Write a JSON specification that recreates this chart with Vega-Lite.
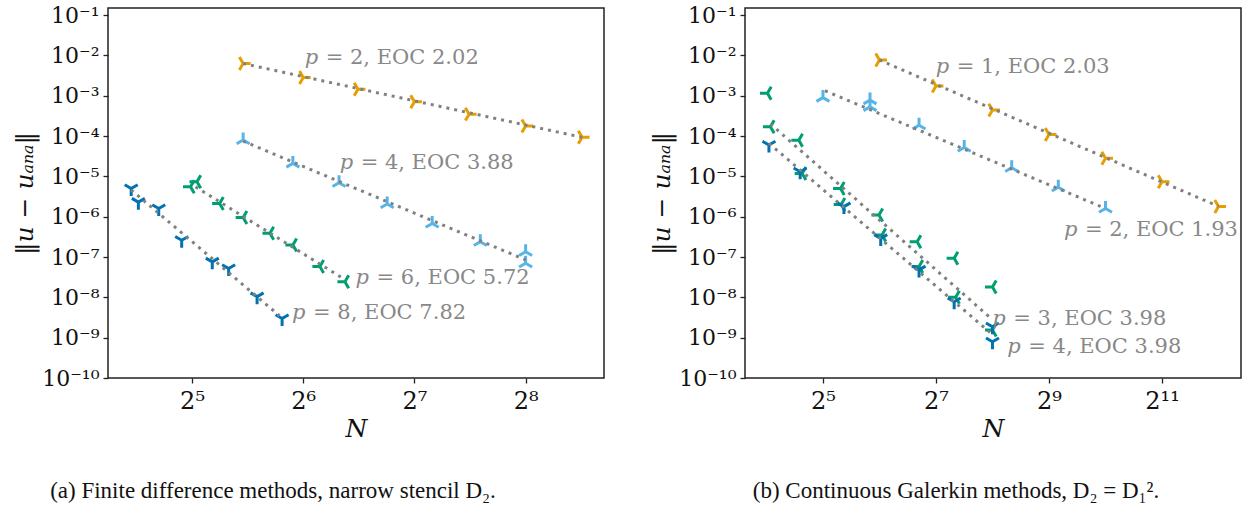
{
  "$schema": "https://vega.github.io/schema/vega-lite/v6.json",
  "background": "white",
  "padding": {"left": 12, "top": 3, "right": 5, "bottom": 5},
  "bounds": "flush",
  "spacing": 141,
  "config": {
    "view": {"stroke": "#222222", "strokeWidth": 1.5},
    "font": "DejaVu Serif",
    "axis": {
      "grid": false,
      "domain": false,
      "tickColor": "#222222",
      "tickSize": 5,
      "tickWidth": 1.3,
      "labelFont": "DejaVu Serif",
      "labelFontSize": 22,
      "labelColor": "#111111",
      "titleFont": "DejaVu Serif",
      "titleFontSize": 25,
      "titleFontWeight": "normal",
      "titleColor": "#111111"
    }
  },
  "datasets": {
    "ptsA": [
      {"p": 2, "N": 44, "err": 6.3e-3}, {"p": 2, "N": 64, "err": 2.85e-3}, {"p": 2, "N": 90, "err": 1.44e-3},
      {"p": 2, "N": 128, "err": 7.1e-4}, {"p": 2, "N": 180, "err": 3.5e-4}, {"p": 2, "N": 256, "err": 1.77e-4},
      {"p": 2, "N": 364, "err": 9.3e-5},
      {"p": 4, "N": 44, "err": 8.0e-5}, {"p": 4, "N": 60, "err": 2.1e-5}, {"p": 4, "N": 80, "err": 6.95e-6},
      {"p": 4, "N": 108, "err": 2.06e-6}, {"p": 4, "N": 143, "err": 6.8e-7}, {"p": 4, "N": 193, "err": 2.4e-7},
      {"p": 4, "N": 256, "err": 1.35e-7}, {"p": 4, "N": 256, "err": 7.0e-8},
      {"p": 6, "N": 31.7, "err": 5.5e-6}, {"p": 6, "N": 33, "err": 7.4e-6}, {"p": 6, "N": 38, "err": 2.14e-6},
      {"p": 6, "N": 44, "err": 9.6e-7}, {"p": 6, "N": 52, "err": 3.9e-7}, {"p": 6, "N": 60, "err": 2.0e-7},
      {"p": 6, "N": 71, "err": 5.8e-8}, {"p": 6, "N": 83, "err": 2.45e-8},
      {"p": 8, "N": 21.9, "err": 5.0e-6}, {"p": 8, "N": 22.9, "err": 2.3e-6}, {"p": 8, "N": 26, "err": 1.6e-6},
      {"p": 8, "N": 30, "err": 2.6e-7}, {"p": 8, "N": 36.3, "err": 7.6e-8}, {"p": 8, "N": 40.2, "err": 5.2e-8},
      {"p": 8, "N": 48, "err": 1.04e-8}, {"p": 8, "N": 56.1, "err": 3.0e-9}
    ],
    "fitA": [
      {"p": 2, "N": 44, "err": 6.3e-3}, {"p": 2, "N": 364, "err": 9.3e-5},
      {"p": 4, "N": 44, "err": 7.5e-5}, {"p": 4, "N": 256, "err": 8.5e-8},
      {"p": 6, "N": 32.7, "err": 5.5e-6}, {"p": 6, "N": 83.3, "err": 2.7e-8},
      {"p": 8, "N": 21.9, "err": 4.6e-6}, {"p": 8, "N": 55.2, "err": 3.5e-9}
    ],
    "labA": [
      {"p": 2, "N": 64.6, "err": 8.6e-3, "text": "= 2, EOC 2.02"},
      {"p": 4, "N": 80.3, "err": 2.14e-5, "text": "= 4, EOC 3.88"},
      {"p": 6, "N": 88.7, "err": 2.97e-8, "text": "= 6, EOC 5.72"},
      {"p": 8, "N": 59.7, "err": 4.0e-9, "text": "= 8, EOC 7.82"}
    ],
    "ptsB": [
      {"p": 1, "N": 64, "err": 7.7e-3}, {"p": 1, "N": 128, "err": 1.74e-3}, {"p": 1, "N": 256, "err": 4.4e-4},
      {"p": 1, "N": 512, "err": 1.1e-4}, {"p": 1, "N": 1024, "err": 2.8e-5}, {"p": 1, "N": 2048, "err": 7.4e-6},
      {"p": 1, "N": 4096, "err": 1.8e-6},
      {"p": 2, "N": 32, "err": 9.0e-4}, {"p": 2, "N": 57, "err": 7.8e-4}, {"p": 2, "N": 57, "err": 5.3e-4},
      {"p": 2, "N": 104, "err": 1.86e-4}, {"p": 2, "N": 181, "err": 5.2e-5}, {"p": 2, "N": 324, "err": 1.64e-5},
      {"p": 2, "N": 574, "err": 5.4e-6}, {"p": 2, "N": 1024, "err": 1.6e-6},
      {"p": 3, "N": 16.8, "err": 1.7e-4}, {"p": 3, "N": 24.8, "err": 1.18e-5}, {"p": 3, "N": 40, "err": 2.0e-6},
      {"p": 3, "N": 66, "err": 3.5e-7}, {"p": 3, "N": 104, "err": 5.8e-8}, {"p": 3, "N": 163, "err": 1.0e-8},
      {"p": 3, "N": 256, "err": 1.55e-9},
      {"p": 3, "N": 16.2, "err": 1.15e-3}, {"p": 3, "N": 23.8, "err": 7.9e-5}, {"p": 3, "N": 39.7, "err": 5.0e-6},
      {"p": 3, "N": 63.6, "err": 1.1e-6}, {"p": 3, "N": 101.6, "err": 2.4e-7}, {"p": 3, "N": 160, "err": 9.3e-8},
      {"p": 3, "N": 256, "err": 1.8e-8},
      {"p": 4, "N": 16.5, "err": 6.0e-5}, {"p": 4, "N": 24.2, "err": 1.3e-5}, {"p": 4, "N": 41.4, "err": 1.78e-6},
      {"p": 4, "N": 65, "err": 2.9e-7}, {"p": 4, "N": 104, "err": 4.8e-8}, {"p": 4, "N": 160, "err": 7.8e-9},
      {"p": 4, "N": 256, "err": 1.86e-9}, {"p": 4, "N": 256, "err": 7.9e-10}
    ],
    "fitB": [
      {"p": 1, "N": 64, "err": 7.7e-3}, {"p": 1, "N": 4096, "err": 1.8e-6},
      {"p": 2, "N": 32.8, "err": 1.33e-3}, {"p": 2, "N": 1024, "err": 1.6e-6},
      {"p": 3, "N": 16.8, "err": 2.0e-4}, {"p": 3, "N": 256, "err": 2.8e-9},
      {"p": 4, "N": 16.5, "err": 6.6e-5}, {"p": 4, "N": 256, "err": 1.2e-9}
    ],
    "labB": [
      {"p": 1, "N": 127.5, "err": 5.2e-3, "text": "= 1, EOC 2.03"},
      {"p": 2, "N": 615, "err": 4.7e-7, "text": "= 2, EOC 1.93"},
      {"p": 3, "N": 255.5, "err": 2.85e-9, "text": "= 3, EOC 3.98"},
      {"p": 4, "N": 307, "err": 5.75e-10, "text": "= 4, EOC 3.98"}
    ]
  },
  "hconcat": [
    {
      "width": 496,
      "height": 370,
      "title": {"text": "(a) Finite difference methods, narrow stencil D₂.", "orient": "bottom", "anchor": "middle", "dx": -83, "offset": 39, "font": "Liberation Serif", "fontSize": 23, "fontWeight": "normal", "color": "#111111"},
      "encoding": {
        "x": {"field": "N", "type": "quantitative", "scale": {"type": "log", "base": 2, "domain": [18.95, 417.3], "nice": false, "zero": false},
              "axis": {"values": [32, 64, 128, 256], "labelExpr": "'2' + ['⁰','¹','²','³','⁴','⁵','⁶','⁷','⁸','⁹','¹⁰','¹¹','¹²'][round(log(datum.value)/LN2)]", "title": "N", "titleFontStyle": "italic", "labelFontSize": 24, "labelPadding": 6, "titlePadding": 3}},
        "y": {"field": "err", "type": "quantitative", "scale": {"type": "log", "domain": [1e-10, 0.15], "nice": false, "zero": false},
              "axis": {"values": [1e-10, 1e-9, 1e-8, 1e-7, 1e-6, 1e-5, 1e-4, 1e-3, 1e-2, 1e-1], "labelExpr": "datum.value < 5e-10 ? '10⁻¹⁰' : '10⁻' + ['⁰','¹','²','³','⁴','⁵','⁶','⁷','⁸','⁹'][round(-log(datum.value)/LN10)]", "title": "‖u − uₐₙₐ‖", "titleFontStyle": "italic", "labelPadding": 4, "titlePadding": 4}}
      },
      "layer": [
        {"data": {"name": "ptsA"}, "mark": {"type": "point", "filled": false, "strokeWidth": 3, "size": 225, "opacity": 1},
         "encoding": {
           "color": {"field": "p", "type": "nominal", "scale": {"domain": [2, 4, 6, 8], "range": ["#E69F00", "#56B4E9", "#009E73", "#0072B2"]}, "legend": null},
           "shape": {"field": "p", "type": "nominal", "scale": {"domain": [2, 4, 6, 8], "range": ["M0,0L1,0M0,0L-0.5,-0.866M0,0L-0.5,0.866", "M0,0L0,-1M0,0L-0.866,0.5M0,0L0.866,0.5", "M0,0L-1,0M0,0L0.5,-0.866M0,0L0.5,0.866", "M0,0L0,1M0,0L-0.866,-0.5M0,0L0.866,-0.5"]}, "legend": null}
         }},
        {"data": {"name": "fitA"}, "mark": {"type": "line", "color": "#808080", "strokeDash": [3, 5], "strokeWidth": 3},
         "encoding": {"detail": {"field": "p", "type": "nominal"}}},
        {"data": {"name": "labA"}, "mark": {"type": "text", "text": "p", "align": "left", "baseline": "middle", "font": "DejaVu Serif", "fontStyle": "italic", "fontSize": 21, "color": "#888888"}},
        {"data": {"name": "labA"}, "mark": {"type": "text", "align": "left", "baseline": "middle", "dx": 21, "font": "DejaVu Serif", "fontSize": 21, "color": "#888888"},
         "encoding": {"text": {"field": "text", "type": "nominal"}}}
      ],
      "resolve": {"scale": {"color": "independent", "shape": "independent"}}
    },
    {
      "width": 496,
      "height": 370,
      "title": {"text": "(b) Continuous Galerkin methods, D₂ = D₁².", "orient": "bottom", "anchor": "middle", "dx": -37, "offset": 39, "font": "Liberation Serif", "fontSize": 23, "fontWeight": "normal", "color": "#111111"},
      "encoding": {
        "x": {"field": "N", "type": "quantitative", "scale": {"type": "log", "base": 2, "domain": [12.3, 5397], "nice": false, "zero": false},
              "axis": {"values": [32, 128, 512, 2048], "labelExpr": "'2' + ['⁰','¹','²','³','⁴','⁵','⁶','⁷','⁸','⁹','¹⁰','¹¹','¹²'][round(log(datum.value)/LN2)]", "title": "N", "titleFontStyle": "italic", "labelFontSize": 24, "labelPadding": 6, "titlePadding": 3}},
        "y": {"field": "err", "type": "quantitative", "scale": {"type": "log", "domain": [1e-10, 0.15], "nice": false, "zero": false},
              "axis": {"values": [1e-10, 1e-9, 1e-8, 1e-7, 1e-6, 1e-5, 1e-4, 1e-3, 1e-2, 1e-1], "labelExpr": "datum.value < 5e-10 ? '10⁻¹⁰' : '10⁻' + ['⁰','¹','²','³','⁴','⁵','⁶','⁷','⁸','⁹'][round(-log(datum.value)/LN10)]", "title": "‖u − uₐₙₐ‖", "titleFontStyle": "italic", "labelPadding": 4, "titlePadding": 4}}
      },
      "layer": [
        {"data": {"name": "ptsB"}, "mark": {"type": "point", "filled": false, "strokeWidth": 3, "size": 225, "opacity": 1},
         "encoding": {
           "color": {"field": "p", "type": "nominal", "scale": {"domain": [1, 2, 3, 4], "range": ["#E69F00", "#56B4E9", "#009E73", "#0072B2"]}, "legend": null},
           "shape": {"field": "p", "type": "nominal", "scale": {"domain": [1, 2, 3, 4], "range": ["M0,0L1,0M0,0L-0.5,-0.866M0,0L-0.5,0.866", "M0,0L0,-1M0,0L-0.866,0.5M0,0L0.866,0.5", "M0,0L-1,0M0,0L0.5,-0.866M0,0L0.5,0.866", "M0,0L0,1M0,0L-0.866,-0.5M0,0L0.866,-0.5"]}, "legend": null}
         }},
        {"data": {"name": "fitB"}, "mark": {"type": "line", "color": "#808080", "strokeDash": [3, 5], "strokeWidth": 3},
         "encoding": {"detail": {"field": "p", "type": "nominal"}}},
        {"data": {"name": "labB"}, "mark": {"type": "text", "text": "p", "align": "left", "baseline": "middle", "font": "DejaVu Serif", "fontStyle": "italic", "fontSize": 21, "color": "#888888"}},
        {"data": {"name": "labB"}, "mark": {"type": "text", "align": "left", "baseline": "middle", "dx": 21, "font": "DejaVu Serif", "fontSize": 21, "color": "#888888"},
         "encoding": {"text": {"field": "text", "type": "nominal"}}}
      ],
      "resolve": {"scale": {"color": "independent", "shape": "independent"}}
    }
  ],
  "resolve": {"scale": {"x": "independent", "y": "independent", "color": "independent", "shape": "independent"}}
}
